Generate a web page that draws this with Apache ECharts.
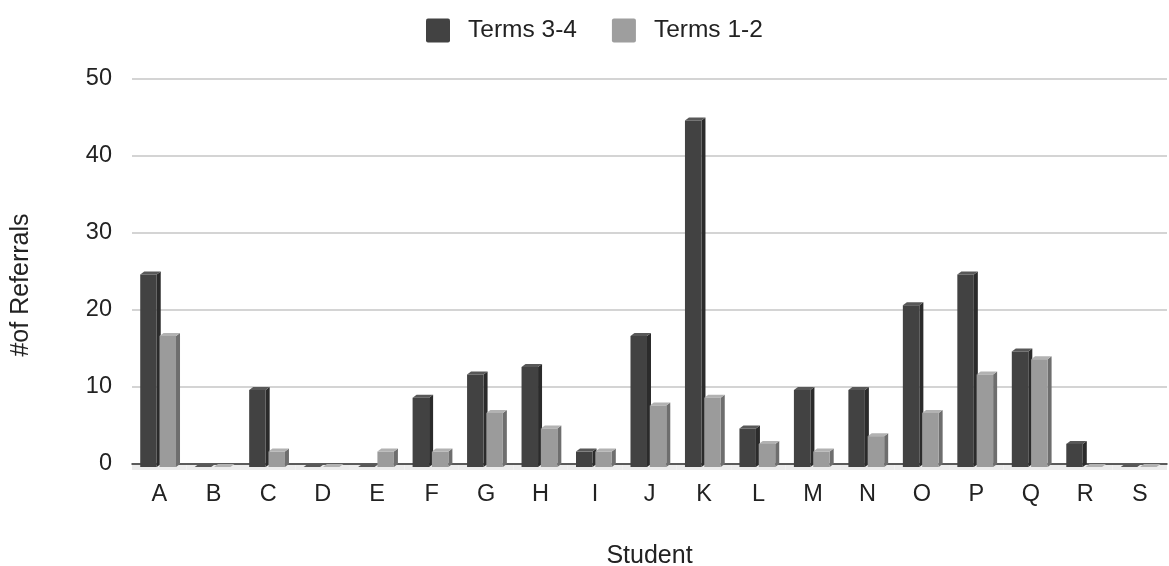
<!DOCTYPE html>
<html>
<head>
<meta charset="utf-8">
<script src="https://cdn.jsdelivr.net/npm/echarts@6/dist/echarts.min.js"></script>
<style>
html,body{margin:0;padding:0;background:#fff;}
#chart{width:1169px;height:566px;}
</style>
</head>
<body>
<div id="chart"></div>
<script>
var categories = ['A','B','C','D','E','F','G','H','I','J','K','L','M','N','O','P','Q','R','S'];
var terms34 = [25,0,10,0,0,9,12,13,2,17,45,5,10,10,21,25,15,3,0];
var terms12 = [17,0,2,0,2,2,7,5,2,8,9,3,2,4,7,12,14,0,0];
var yTicks = {min:0, max:50, interval:10};

var FONT = '"Liberation Sans", Arial, sans-serif';

function make3D(front, side, top, offsetFrac, drawFloor){
  return function(params, api){
    var cat = api.value(0), v = api.value(1);
    var band = api.size([1,0])[0];
    var c = api.coord([cat, v]);
    var c0 = api.coord([cat, 0]);
    var w = band*0.303, dx = 4, dy = 3;
    var x0 = c[0] + band*offsetFrac;
    var yTop = c[1] + dy, yBot = c0[1] + dy;
    var children = [];
    if (drawFloor) {
      children.push({type:'rect', shape:{x:c0[0]-band/2, y:c0[1]+1, width:band, height:5}, style:{fill:'#ececec'}});
    }
    children.push({type:'polygon', shape:{points:[[x0+w,yBot],[x0+w+dx,yBot-dy],[x0+w+dx,yTop-dy],[x0+w,yTop]]}, style:{fill:side}});
    children.push({type:'polygon', shape:{points:[[x0,yTop],[x0+dx,yTop-dy],[x0+w+dx,yTop-dy],[x0+w,yTop]]}, style:{fill:top}});
    children.push({type:'rect', shape:{x:x0, y:yTop, width:w, height:Math.max(0,yBot-yTop)}, style:{fill:front}});
    return {type:'group', children:children};
  };
}

var ICON = 'path://M2,0 H22 Q24,0 24,2 V22 Q24,24 22,24 H2 Q0,24 0,22 V2 Q0,0 2,0 Z';

var chart = echarts.init(document.getElementById('chart'), null, {renderer:'canvas'});
chart.setOption({
  animation:false,
  textStyle:{fontFamily:FONT},
  legend:{
    top:13, left:421,
    itemWidth:24, itemHeight:24, itemGap:35,
    icon:ICON,
    textStyle:{fontSize:24.5, color:'#222', fontFamily:FONT, padding:[0,0,0,13]},
    data:['Terms 3-4','Terms 1-2']
  },
  grid:{left:132, right:2, top:79, bottom:102, containLabel:false, outerBoundsMode:'none'},
  xAxis:{
    type:'category', data:categories,
    name:'Student', nameLocation:'middle', nameGap:80,
    nameTextStyle:{fontSize:25, color:'#222', fontFamily:FONT},
    axisTick:{show:false},
    axisLine:{show:true, lineStyle:{color:'#333', width:1.5}},
    axisLabel:{fontSize:23.5, color:'#222', margin:19, fontFamily:FONT},
    splitLine:{show:false}
  },
  yAxis:{
    type:'value', min:yTicks.min, max:yTicks.max, interval:yTicks.interval,
    name:'#of Referrals', nameLocation:'middle', nameGap:98,
    nameTextStyle:{fontSize:25, color:'#222', fontFamily:FONT, padding:[0,27,0,0]},
    axisLine:{show:false}, axisTick:{show:false},
    axisLabel:{fontSize:23.5, color:'#222', margin:20, fontFamily:FONT},
    splitLine:{lineStyle:{color:'#d4d4d4', width:2}}
  },
  series:[
    {
      name:'Terms 3-4', type:'custom',
      itemStyle:{color:'#424242'},
      renderItem: make3D('#424242', '#2b2b2b', '#585858', -0.349, true),
      encode:{x:0, y:1},
      data: terms34.map(function(v,i){return [i,v];}),
      z:3
    },
    {
      name:'Terms 1-2', type:'custom',
      itemStyle:{color:'#9e9e9e'},
      renderItem: make3D('#9b9b9b', '#6e6e6e', '#b2b2b2', 0.005, false),
      encode:{x:0, y:1},
      data: terms12.map(function(v,i){return [i,v];}),
      z:4
    }
  ]
});
</script>
</body>
</html>
